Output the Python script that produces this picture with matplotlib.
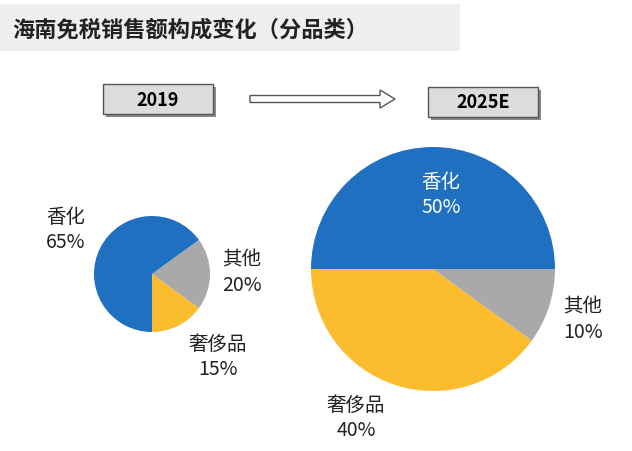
import matplotlib.pyplot as plt
from matplotlib.patches import FancyBboxPatch, FancyArrow

plt.rcParams["font.family"] = ["Noto Sans CJK SC", "DejaVu Sans"]

title = "海南免税销售额构成变化（分品类）"
years = ["2019", "2025E"]
labels_2019 = ["奢侈品", "其他", "香化"]
shares_2019 = [15, 20, 65]
labels_2025 = ["香化", "奢侈品", "其他"]
shares_2025 = [50, 40, 10]

colors = {"香化": "#1f70c1", "其他": "#a9a9a9", "奢侈品": "#fbbd2e"}

W, H = 632, 452
fig = plt.figure(figsize=(W / 100, H / 100), dpi=100)
ax = fig.add_axes([0, 0, 1, 1])
ax.axis("off")

def Y(y):
    return H - y

# title banner
ax.add_patch(plt.Rectangle((0, Y(52)), 460, 47, color="#efefef", lw=0))
ax.text(12, Y(30), title, fontsize=16, fontweight="bold", color="#222222", va="center")

# year boxes
for (x0, y0), txt in zip([(103, 85), (428, 88)], years):
    ax.add_patch(FancyBboxPatch((x0 + 3, Y(y0 + 33)), 110, 30, boxstyle="square,pad=0",
                                fc="#888888", ec="none"))
    ax.add_patch(FancyBboxPatch((x0, Y(y0 + 30)), 110, 30, boxstyle="square,pad=0",
                                fc="#dcdcdc", ec="#555555", lw=1))
    ax.text(x0 + 55, Y(y0 + 15), txt, fontsize=13, fontweight="bold", ha="center", va="center")

ax.add_patch(FancyArrow(250, Y(100), 130, 0, width=7, head_width=18, head_length=15,
                        fc="white", ec="#555555", lw=1, length_includes_head=False))

# pies
ax.pie(shares_2019, colors=[colors[l] for l in labels_2019], startangle=270,
       center=(152, Y(275)), radius=58, wedgeprops=dict(lw=0))
ax.pie(shares_2025, colors=[colors[l] for l in labels_2025], startangle=0,
       center=(433, Y(270)), radius=122, wedgeprops=dict(lw=0))
ax.set_xlim(0, W)
ax.set_ylim(0, H)
ax.set_aspect("equal")

def lab(x, y, name, val, color="#222222"):
    ax.text(x, Y(y), f"{name}\n{val}%", fontsize=14, ha="center", va="center",
            color=color, linespacing=1.3)

d19 = dict(zip(labels_2019, shares_2019))
d25 = dict(zip(labels_2025, shares_2025))
lab(66, 230, "香化", d19["香化"])
lab(242, 273, "其他", d19["其他"])
lab(218, 357, "奢侈品", d19["奢侈品"])
lab(441, 195, "香化", d25["香化"], color="white")
lab(583, 320, "其他", d25["其他"])
lab(356, 418, "奢侈品", d25["奢侈品"])

fig.savefig("out.png", dpi=100)
